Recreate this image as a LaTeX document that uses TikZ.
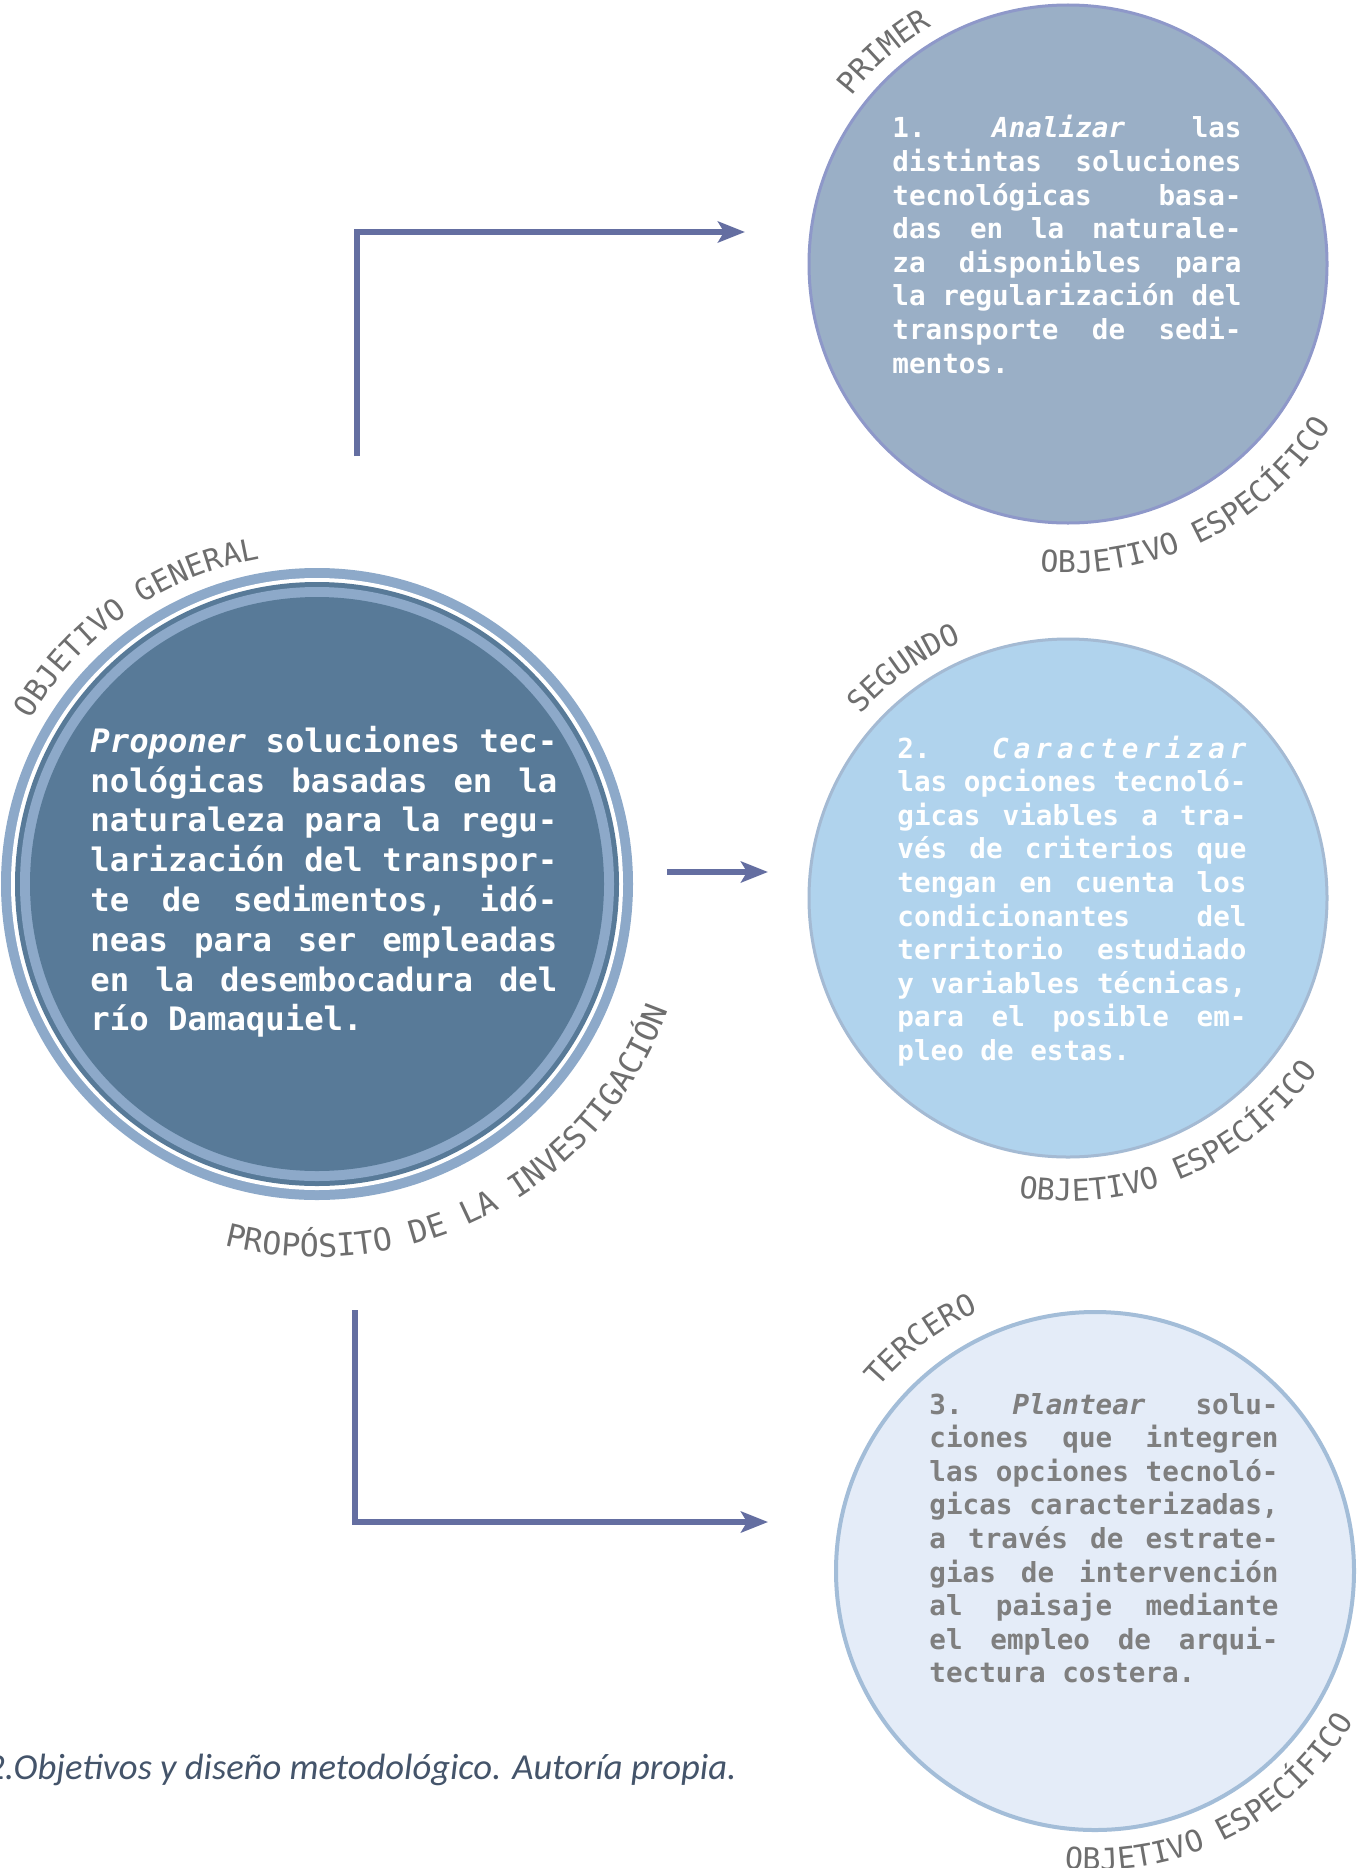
\documentclass[tikz,border=0pt]{standalone}
\usepackage{fontspec}
\usetikzlibrary{positioning,calc,arrows.meta,decorations.text}
\newfontfamily\monofont{DejaVu Sans Mono}
\newfontfamily\capfont{Carlito}

\definecolor{ringlight}{HTML}{8DA9C9}
\definecolor{genfill}{HTML}{587A98}
\definecolor{firstfill}{HTML}{9AAFC6}
\definecolor{firstline}{HTML}{8E98C9}
\definecolor{secondfill}{HTML}{B0D3ED}
\definecolor{secondline}{HTML}{A4BAD3}
\definecolor{thirdfill}{HTML}{E4ECF8}
\definecolor{thirdline}{HTML}{A3BDD8}
\definecolor{flowblue}{HTML}{646EA1}
\definecolor{labelgray}{HTML}{6E6E6E}
\definecolor{textgray}{HTML}{7F7F7F}
\definecolor{capblue}{HTML}{44546A}

% justified line / last line of a paragraph
\newcommand\jline[1]{\par\noindent\hbox to\hsize{\setbox0\hbox{x}\frenchspacing
  \spaceskip=\wd0 plus 1fil\relax\xspaceskip=\spaceskip#1}\par}
\newcommand\lline[1]{\par\noindent\hbox to\hsize{\setbox0\hbox{x}\frenchspacing
  \spaceskip=\wd0\relax\xspaceskip=\spaceskip#1\hfill}\par}

\tikzset{
  objcircle/.style={circle, draw, line width=1.5pt, minimum size=259pt, inner sep=0pt},
  objtext/.style={anchor=north west, inner sep=0pt, text width=174.6pt,
    font=\monofont\bfseries\fontsize{13.8}{16.8}\selectfont},
  flow/.style={draw=flowblue, line width=3.2pt, -{Stealth[length=13.5pt, width=10.5pt, inset=3pt]}},
  arclabel/.style={decorate, decoration={text along path, text align=center,
    text color=labelgray, text={|\monofont\fontsize{15}{15}\selectfont|#1}}},
  widelabel/.style={decorate, decoration={text along path, text align=center,
    text color=labelgray, text={|\monofont\fontsize{15.8}{15}\selectfont|#1}}}
}

\begin{document}
\begin{tikzpicture}[x=0.5pt, y=0.5pt, on grid]
  \fill[white] (0,0) rectangle (1356,-1868);
  \useasboundingbox (0,0) rectangle (1356,-1868);

  % objetivo general
  \node[circle, fill=ringlight, minimum size=316pt, inner sep=0pt] (gen) at (317,-884) {};
  \fill[white] (gen) circle (306);
  \fill[genfill] (gen) circle (302);
  \fill[ringlight] (gen) circle (297);
  \fill[genfill] (gen) circle (287);
  \node[objtext, text width=233.5pt, text=white,
    font=\monofont\bfseries\fontsize{16.15}{19.9}\selectfont] (gentext) at (90,-712) {%
    \jline{\textit{Proponer} soluciones tec-}%
    \jline{nológicas basadas en la}%
    \jline{naturaleza para la regu-}%
    \jline{larización del transpor-}%
    \jline{te de sedimentos, idó-}%
    \jline{neas para ser empleadas}%
    \jline{en la desembocadura del}%
    \lline{río Damaquiel.}};
  \path[arclabel={OBJETIVO GENERAL}] ($(gen)+(175:330)$) arc[start angle=175, end angle=75, radius=330];
  \path[widelabel={PROPÓSITO DE LA INVESTIGACIÓN}] ($(gen)+(-122:373)$) arc[start angle=-122, end angle=-2, radius=373];

  % objetivos especificos
  \node[objcircle, fill=firstfill, draw=firstline] (obj1) at (1068,-264) {};
  \node[objcircle, fill=secondfill, draw=secondline, below=317pt of obj1] (obj2) {};
  \node[objcircle, fill=thirdfill, draw=thirdline, line width=2pt,
    below=336.5pt of obj2, xshift=13.5pt] (obj3) {};

  \node[objtext, text=white] (text1) at (892,-104) {%
    \jline{1. \textit{Analizar} las}%
    \jline{distintas soluciones}%
    \jline{tecnológicas basa-}%
    \jline{das en la naturale-}%
    \jline{za disponibles para}%
    \jline{la regularización del}%
    \jline{transporte de sedi-}%
    \lline{mentos.}};
  \node[objtext, text=white] (text2) at (897,-724) {%
    \jline{2.\hskip 0.602em plus 9fil\textit{C\hfil a\hfil r\hfil a\hfil c\hfil t\hfil e\hfil r\hfil i\hfil z\hfil a\hfil r}}%
    \jline{las opciones tecnoló-}%
    \jline{gicas viables a tra-}%
    \jline{vés de criterios que}%
    \jline{tengan en cuenta los}%
    \jline{condicionantes del}%
    \jline{territorio estudiado}%
    \jline{y variables técnicas,}%
    \jline{para el posible em-}%
    \lline{pleo de estas.}};
  \node[objtext, text=textgray] (text3) at (929,-1380) {%
    \jline{3. \textit{Plantear} solu-}%
    \jline{ciones que integren}%
    \jline{las opciones tecnoló-}%
    \jline{gicas caracterizadas,}%
    \jline{a través de estrate-}%
    \jline{gias de intervención}%
    \jline{al paisaje mediante}%
    \jline{el empleo de arqui-}%
    \lline{tectura costera.}};

  \path[arclabel={PRIMER}] ($(obj1)+(171:274)$) arc[start angle=171, end angle=91, radius=274];
  \path[arclabel={OBJETIVO ESPECÍFICO}] ($(obj1)+(-113.4:309)$) arc[start angle=-113.4, end angle=-13.4, radius=309];
  \path[arclabel={SEGUNDO}] ($(obj2)+(165.5:277)$) arc[start angle=165.5, end angle=85.5, radius=277];
  \path[arclabel={OBJETIVO ESPECÍFICO}] ($(obj2)+(-117:303)$) arc[start angle=-117, end angle=-17, radius=303];
  \path[arclabel={TERCERO}] ($(obj3)+(167:284)$) arc[start angle=167, end angle=87, radius=284];
  \path[arclabel={OBJETIVO ESPECÍFICO}] ($(obj3)+(-113:299)$) arc[start angle=-113, end angle=-13, radius=299];

  % conectores
  \coordinate (up0) at (357,-456);
  \coordinate (up1) at (745,-232);
  \coordinate (mid0) at (667,-872);
  \coordinate (mid1) at (768,-872);
  \coordinate (dn0) at (355,-1310);
  \coordinate (dn1) at (768,-1522);
  \draw[flow] (up0) |- (up1);
  \draw[flow] (mid0) -- (mid1);
  \draw[flow] (dn0) |- (dn1);

  \node[anchor=base east, inner sep=0pt, text=capblue,
    font=\capfont\itshape\fontsize{18.3}{18.3}\selectfont] (caption) at (737,-1779)
    {2.Objetivos y diseño metodológico. Autoría propia.};
\end{tikzpicture}
\end{document}
